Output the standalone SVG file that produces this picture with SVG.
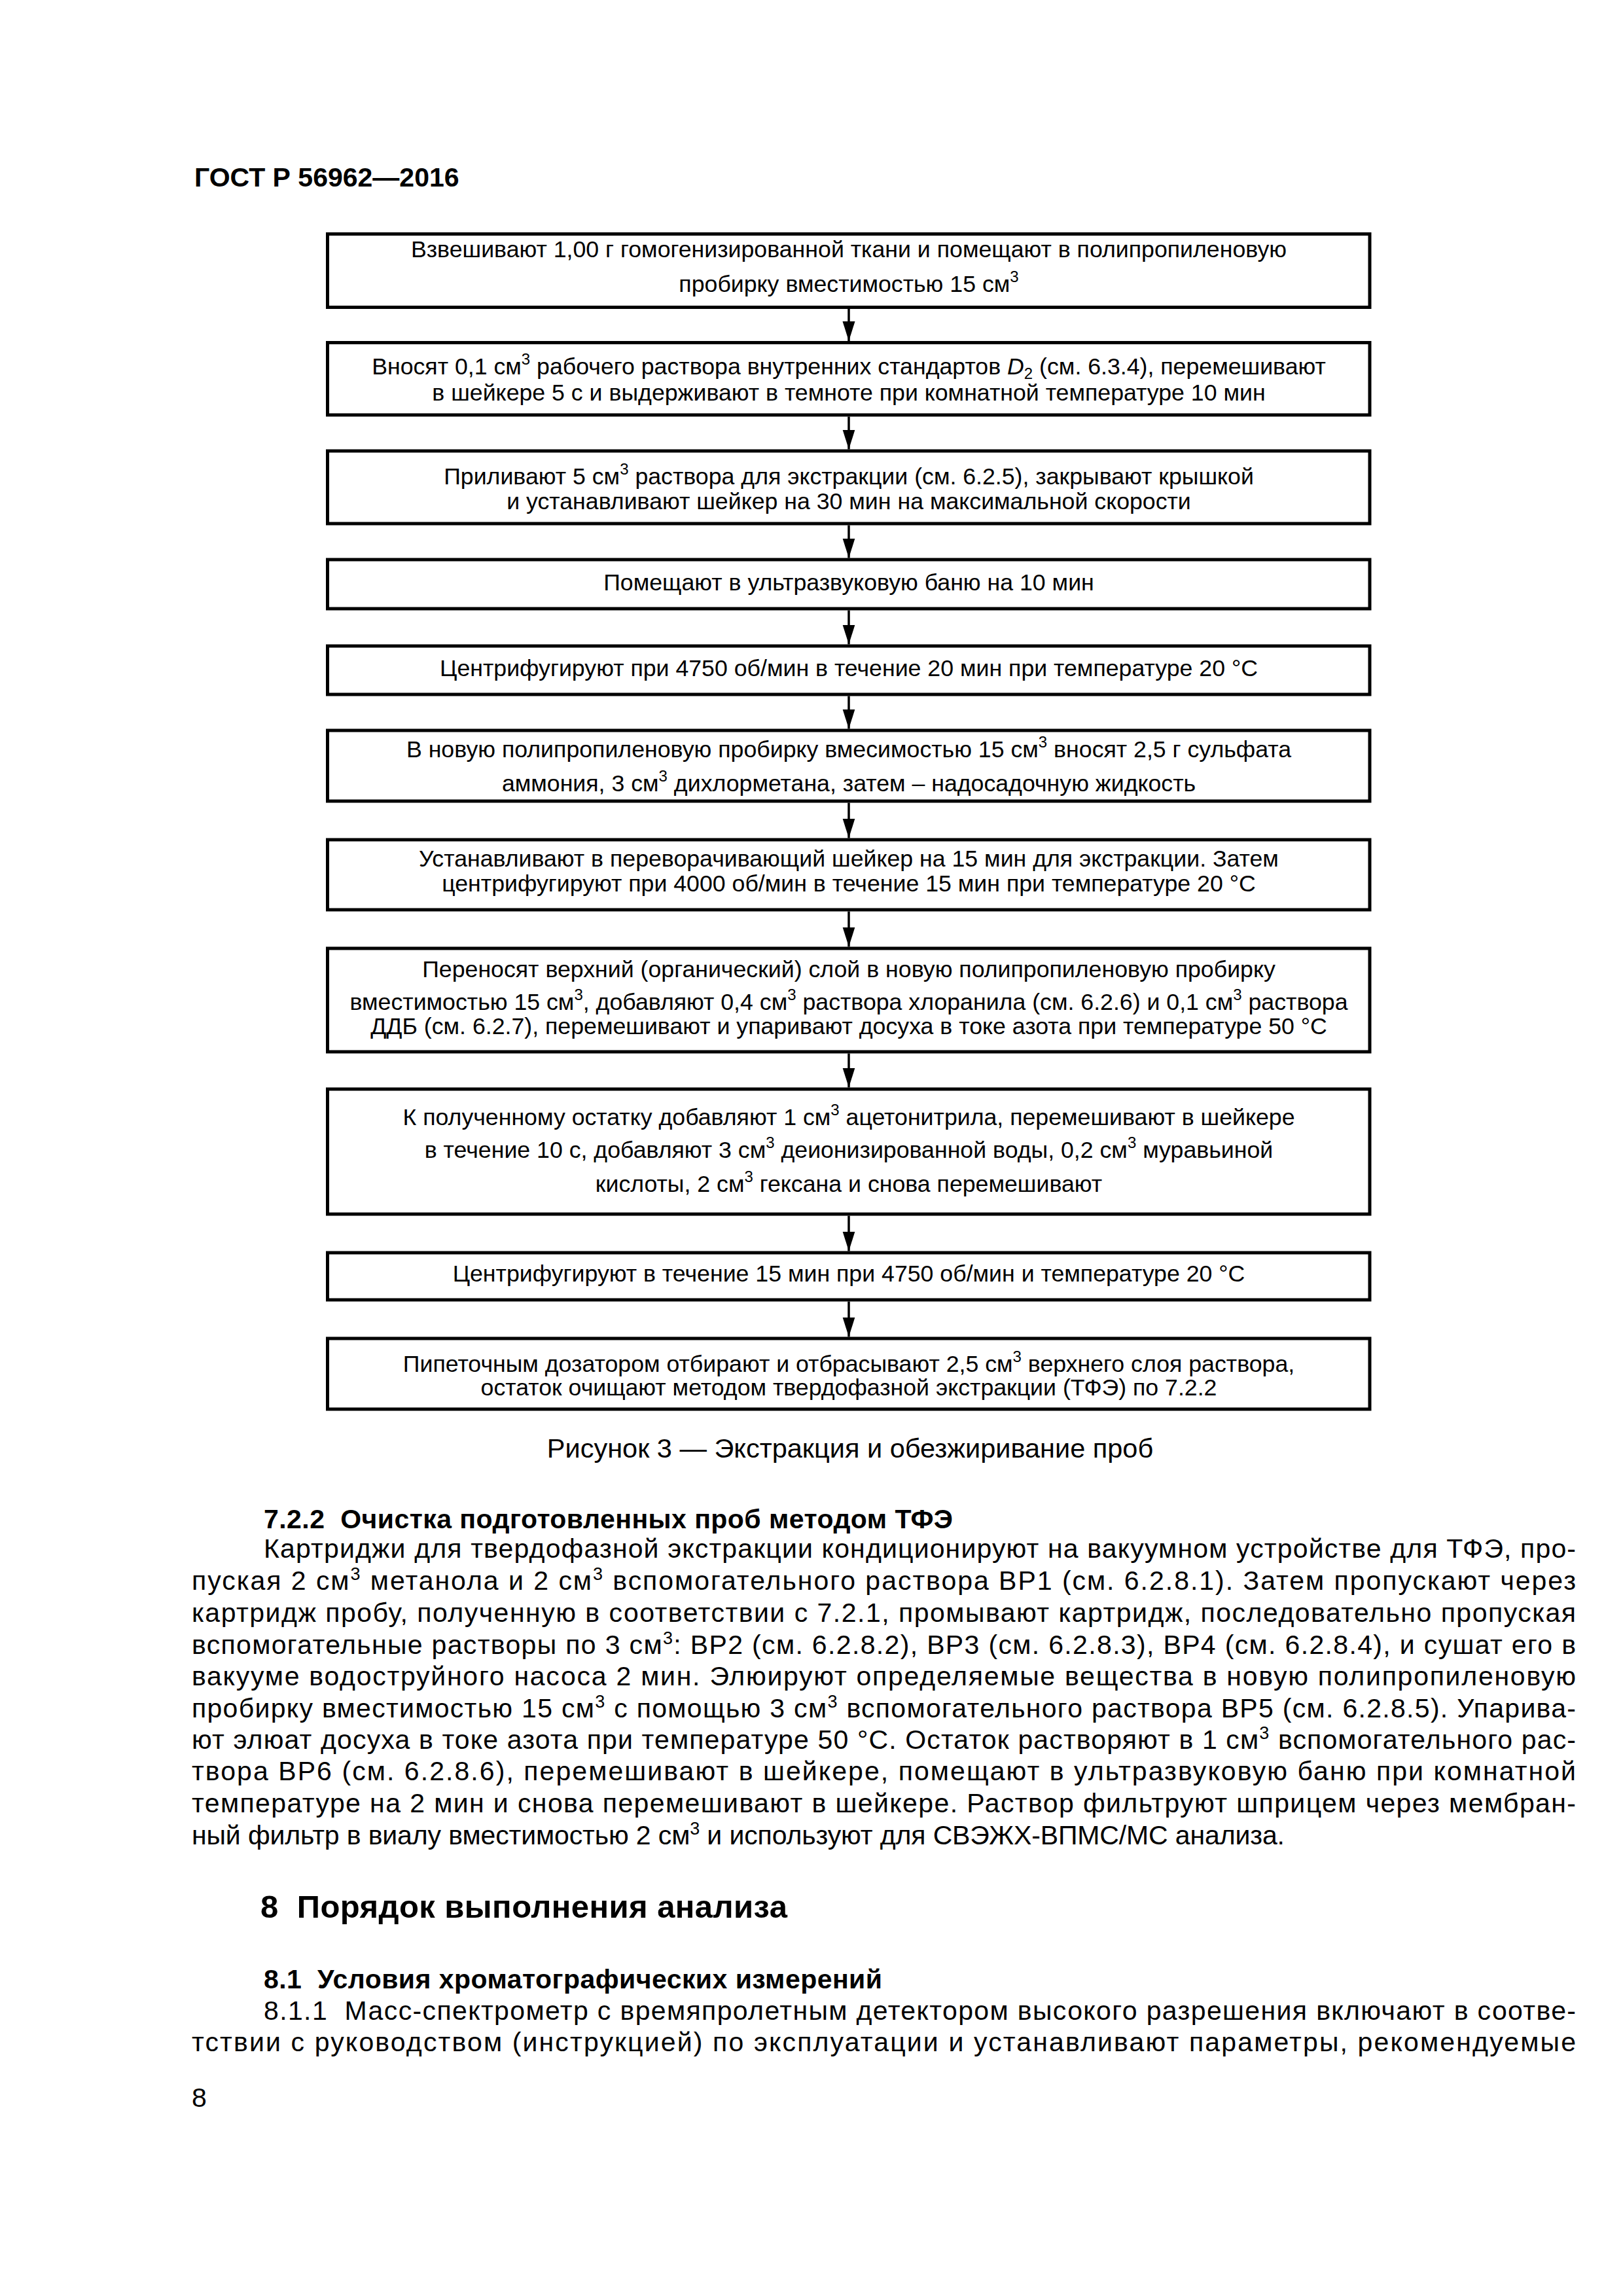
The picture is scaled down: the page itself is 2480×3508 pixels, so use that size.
<svg xmlns="http://www.w3.org/2000/svg" width="2480" height="3508" viewBox="0 0 2480 3508">
<style>
text{font-family:"Liberation Sans",Arial,sans-serif;fill:#000}
.hdr{font-size:41px;font-weight:bold}
.box{fill:#fff;stroke:#000;stroke-width:5}
.bt{font-size:35.7px;text-anchor:middle}
.sup{font-size:24px}
.sub{font-size:24px}
.cap{font-size:41.5px;text-anchor:middle}
.h2{font-size:41px;font-weight:bold}
.h1{font-size:49px;font-weight:bold}
.p{font-size:41px}
.ps{font-size:27px}
.conn line{stroke:#000;stroke-width:3.5}
</style>
<defs>
<marker id="ah" markerUnits="userSpaceOnUse" markerWidth="30" markerHeight="20" refX="30" refY="9.5" orient="auto">
<path d="M0,0 L30,9.5 L0,19 Z" fill="#000"/>
</marker>
</defs>
<rect width="2480" height="3508" fill="#fff"/>
<text class="hdr" x="297" y="285">ГОСТ Р 56962—2016</text>

<g class="conn">
<line x1="1297" y1="472" x2="1297" y2="521" marker-end="url(#ah)"/>
<line x1="1297" y1="636.5" x2="1297" y2="686.5" marker-end="url(#ah)"/>
<line x1="1297" y1="802.5" x2="1297" y2="852.5" marker-end="url(#ah)"/>
<line x1="1297" y1="932.5" x2="1297" y2="984.5" marker-end="url(#ah)"/>
<line x1="1297" y1="1063.5" x2="1297" y2="1113.5" marker-end="url(#ah)"/>
<line x1="1297" y1="1226.5" x2="1297" y2="1280.5" marker-end="url(#ah)"/>
<line x1="1297" y1="1392.5" x2="1297" y2="1446.5" marker-end="url(#ah)"/>
<line x1="1297" y1="1609.5" x2="1297" y2="1661.5" marker-end="url(#ah)"/>
<line x1="1297" y1="1857.5" x2="1297" y2="1911.5" marker-end="url(#ah)"/>
<line x1="1297" y1="1988.5" x2="1297" y2="2042.5" marker-end="url(#ah)"/>
</g>

<g id="n1">
<rect class="box" x="500.5" y="357.5" width="1592.5" height="112"/>
<text class="bt" x="1297" y="393">Взвешивают 1,00 г гомогенизированной ткани и помещают в полипропиленовую</text>
<text class="bt" x="1297" y="446">пробирку вместимостью 15 см<tspan class="sup" dy="-15">3</tspan></text>
</g>
<g id="n2">
<rect class="box" x="500.5" y="523.5" width="1592.5" height="110.5"/>
<text class="bt" x="1297" y="572">Вносят 0,1 см<tspan class="sup" dy="-15">3</tspan><tspan dy="15"> рабочего раствора внутренних стандартов </tspan><tspan font-style="italic">D</tspan><tspan class="sub" dy="7">2</tspan><tspan dy="-7"> (см. 6.3.4), перемешивают</tspan></text>
<text class="bt" x="1297" y="612">в шейкере 5 с и выдерживают в темноте при комнатной температуре 10 мин</text>
</g>
<g id="n3">
<rect class="box" x="500.5" y="689" width="1592.5" height="111"/>
<text class="bt" x="1297" y="740">Приливают 5 см<tspan class="sup" dy="-15">3</tspan><tspan dy="15"> раствора для экстракции (см. 6.2.5), закрывают крышкой</tspan></text>
<text class="bt" x="1297" y="778">и устанавливают шейкер на 30 мин на максимальной скорости</text>
</g>
<g id="n4">
<rect class="box" x="500.5" y="855" width="1592.5" height="75"/>
<text class="bt" x="1297" y="902">Помещают в ультразвуковую баню на 10 мин</text>
</g>
<g id="n5">
<rect class="box" x="500.5" y="987" width="1592.5" height="74"/>
<text class="bt" x="1297" y="1033">Центрифугируют при 4750 об/мин в течение 20 мин при температуре 20 °С</text>
</g>
<g id="n6">
<rect class="box" x="500.5" y="1116" width="1592.5" height="108"/>
<text class="bt" x="1297" y="1157">В новую полипропиленовую пробирку вмесимостью 15 см<tspan class="sup" dy="-15">3</tspan><tspan dy="15"> вносят 2,5 г сульфата</tspan></text>
<text class="bt" x="1297" y="1209">аммония, 3 см<tspan class="sup" dy="-15">3</tspan><tspan dy="15"> дихлорметана, затем – надосадочную жидкость</tspan></text>
</g>
<g id="n7">
<rect class="box" x="500.5" y="1283" width="1592.5" height="107"/>
<text class="bt" x="1297" y="1324">Устанавливают в переворачивающий шейкер на 15 мин для экстракции. Затем</text>
<text class="bt" x="1297" y="1362">центрифугируют при 4000 об/мин в течение 15 мин при температуре 20 °С</text>
</g>
<g id="n8">
<rect class="box" x="500.5" y="1449" width="1592.5" height="158"/>
<text class="bt" x="1297" y="1493">Переносят верхний (органический) слой в новую полипропиленовую пробирку</text>
<text class="bt" x="1297" y="1543">вместимостью 15 см<tspan class="sup" dy="-15">3</tspan><tspan dy="15">, добавляют 0,4 см</tspan><tspan class="sup" dy="-15">3</tspan><tspan dy="15"> раствора хлоранила (см. 6.2.6) и 0,1 см</tspan><tspan class="sup" dy="-15">3</tspan><tspan dy="15"> раствора</tspan></text>
<text class="bt" x="1297" y="1580">ДДБ (см. 6.2.7), перемешивают и упаривают досуха в токе азота при температуре 50 °С</text>
</g>
<g id="n9">
<rect class="box" x="500.5" y="1664" width="1592.5" height="191"/>
<text class="bt" x="1297" y="1719">К полученному остатку добавляют 1 см<tspan class="sup" dy="-15">3</tspan><tspan dy="15"> ацетонитрила, перемешивают в шейкере</tspan></text>
<text class="bt" x="1297" y="1769">в течение 10 с, добавляют 3 см<tspan class="sup" dy="-15">3</tspan><tspan dy="15"> деионизированной воды, 0,2 см</tspan><tspan class="sup" dy="-15">3</tspan><tspan dy="15"> муравьиной</tspan></text>
<text class="bt" x="1297" y="1821">кислоты, 2 см<tspan class="sup" dy="-15">3</tspan><tspan dy="15"> гексана и снова перемешивают</tspan></text>
</g>
<g id="n10">
<rect class="box" x="500.5" y="1914" width="1592.5" height="72"/>
<text class="bt" x="1297" y="1958">Центрифугируют в течение 15 мин при 4750 об/мин и температуре 20 °С</text>
</g>
<g id="n11">
<rect class="box" x="500.5" y="2045" width="1592.5" height="108"/>
<text class="bt" x="1297" y="2096">Пипеточным дозатором отбирают и отбрасывают 2,5 см<tspan class="sup" dy="-15">3</tspan><tspan dy="15"> верхнего слоя раствора,</tspan></text>
<text class="bt" x="1297" y="2132">остаток очищают методом твердофазной экстракции (ТФЭ) по 7.2.2</text>
</g>

<text class="cap" x="1299" y="2227">Рисунок 3 — Экстракция и обезжиривание проб</text>

<text class="h2" x="403" y="2335" textLength="1053" lengthAdjust="spacing" xml:space="preserve">7.2.2  Очистка подготовленных проб методом ТФЭ</text>
<text class="p" x="403" y="2380" textLength="2005" lengthAdjust="spacing">Картриджи для твердофазной экстракции кондиционируют на вакуумном устройстве для ТФЭ, про-</text>
<text class="p" x="293" y="2429" textLength="2115" lengthAdjust="spacing">пуская 2 см<tspan class="ps" dy="-15">3</tspan><tspan dy="15"> метанола и 2 см</tspan><tspan class="ps" dy="-15">3</tspan><tspan dy="15"> вспомогательного раствора ВР1 (см. 6.2.8.1). Затем пропускают через</tspan></text>
<text class="p" x="293" y="2478" textLength="2115" lengthAdjust="spacing">картридж пробу, полученную в соответствии с 7.2.1, промывают картридж, последовательно пропуская</text>
<text class="p" x="293" y="2527" textLength="2115" lengthAdjust="spacing">вспомогательные растворы по 3 см<tspan class="ps" dy="-15">3</tspan><tspan dy="15">: ВР2 (см. 6.2.8.2), ВР3 (см. 6.2.8.3), ВР4 (см. 6.2.8.4), и сушат его в</tspan></text>
<text class="p" x="293" y="2575" textLength="2115" lengthAdjust="spacing">вакууме водоструйного насоса 2 мин. Элюируют определяемые вещества в новую полипропиленовую</text>
<text class="p" x="293" y="2624" textLength="2115" lengthAdjust="spacing">пробирку вместимостью 15 см<tspan class="ps" dy="-15">3</tspan><tspan dy="15"> с помощью 3 см</tspan><tspan class="ps" dy="-15">3</tspan><tspan dy="15"> вспомогательного раствора ВР5 (см. 6.2.8.5). Упарива-</tspan></text>
<text class="p" x="293" y="2672" textLength="2115" lengthAdjust="spacing">ют элюат досуха в токе азота при температуре 50 °С. Остаток растворяют в 1 см<tspan class="ps" dy="-15">3</tspan><tspan dy="15"> вспомогательного рас-</tspan></text>
<text class="p" x="293" y="2720" textLength="2115" lengthAdjust="spacing">твора ВР6 (см. 6.2.8.6), перемешивают в шейкере, помещают в ультразвуковую баню при комнатной</text>
<text class="p" x="293" y="2769" textLength="2115" lengthAdjust="spacing">температуре на 2 мин и снова перемешивают в шейкере. Раствор фильтруют шприцем через мембран-</text>
<text class="p" x="293" y="2818" textLength="1670" lengthAdjust="spacing">ный фильтр в виалу вместимостью 2 см<tspan class="ps" dy="-15">3</tspan><tspan dy="15"> и используют для СВЭЖХ-ВПМС/МС анализа.</tspan></text>

<text class="h1" x="398" y="2930" textLength="805" lengthAdjust="spacing" xml:space="preserve">8  Порядок выполнения анализа</text>
<text class="h2" x="403" y="3038" textLength="945" lengthAdjust="spacing" xml:space="preserve">8.1  Условия хроматографических измерений</text>
<text class="p" x="403" y="3086" textLength="2005" lengthAdjust="spacing" xml:space="preserve">8.1.1  Масс-спектрометр с времяпролетным детектором высокого разрешения включают в соотве-</text>
<text class="p" x="293" y="3134" textLength="2115" lengthAdjust="spacing">тствии с руководством (инструкцией) по эксплуатации и устанавливают параметры, рекомендуемые</text>

<text class="p" x="293" y="3219">8</text>
</svg>
